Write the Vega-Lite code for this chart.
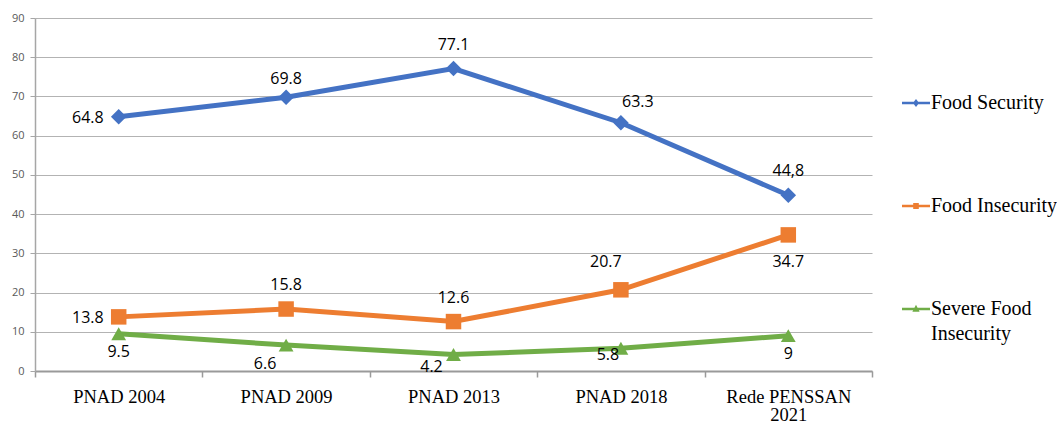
{
  "$schema": "https://vega.github.io/schema/vega-lite/v6.json",
  "width": 837,
  "height": 353,
  "autosize": "none",
  "padding": {"left": 35, "top": 18, "right": 185, "bottom": 53},
  "background": "white",
  "config": {"view": {"stroke": null}},
  "data": {"values": [
    {"period": "PNAD 2004", "series": "Food Security", "value": 64.8, "txt": "64.8"},
    {"period": "PNAD 2009", "series": "Food Security", "value": 69.8, "txt": "69.8"},
    {"period": "PNAD 2013", "series": "Food Security", "value": 77.1, "txt": "77.1"},
    {"period": "PNAD 2018", "series": "Food Security", "value": 63.3, "txt": "63.3"},
    {"period": "Rede PENSSAN 2021", "series": "Food Security", "value": 44.8, "txt": "44,8"},
    {"period": "PNAD 2004", "series": "Food Insecurity", "value": 13.8, "txt": "13.8"},
    {"period": "PNAD 2009", "series": "Food Insecurity", "value": 15.8, "txt": "15.8"},
    {"period": "PNAD 2013", "series": "Food Insecurity", "value": 12.6, "txt": "12.6"},
    {"period": "PNAD 2018", "series": "Food Insecurity", "value": 20.7, "txt": "20.7"},
    {"period": "Rede PENSSAN 2021", "series": "Food Insecurity", "value": 34.7, "txt": "34.7"},
    {"period": "PNAD 2004", "series": "Severe Food Insecurity", "value": 9.5, "txt": "9.5"},
    {"period": "PNAD 2009", "series": "Severe Food Insecurity", "value": 6.6, "txt": "6.6"},
    {"period": "PNAD 2013", "series": "Severe Food Insecurity", "value": 4.2, "txt": "4.2"},
    {"period": "PNAD 2018", "series": "Severe Food Insecurity", "value": 5.8, "txt": "5.8"},
    {"period": "Rede PENSSAN 2021", "series": "Severe Food Insecurity", "value": 9, "txt": "9"}
  ]},
  "encoding": {
    "x": {
      "field": "period", "type": "nominal", "sort": null, "bandPosition": 0.5,
      "scale": {"type": "band", "paddingInner": 0, "paddingOuter": 0},
      "axis": {
        "title": null, "labelAngle": 0, "labelFont": "Liberation Serif", "labelFontSize": 18.5, "labelFontWeight": "normal",
        "labelColor": "#000000", "labelLineHeight": 18, "tickBand": "extent",
        "tickSize": 6, "tickColor": "#9a9a9a", "tickWidth": 1.5, "domainColor": "#9a9a9a", "domainWidth": 2,
        "labelPadding": 10, "grid": false,
        "labelExpr": "datum.label == 'Rede PENSSAN 2021' ? ['Rede PENSSAN', '2021'] : datum.label"
      }
    },
    "y": {
      "field": "value", "type": "quantitative",
      "scale": {"domain": [0, 90], "nice": false},
      "axis": {
        "title": null, "values": [0, 10, 20, 30, 40, 50, 60, 70, 80, 90],
        "labelFont": "Open Sans", "labelFontSize": 11, "labelColor": "#595959",
        "tickSize": 5, "tickColor": "#a6a6a6", "labelPadding": 6,
        "domainColor": "#a6a6a6", "domainWidth": 1.5,
        "gridColor": "#b3b3b3", "gridWidth": 1
      }
    },
    "color": {"field": "series", "type": "nominal",
      "scale": {"domain": ["Food Security", "Food Insecurity", "Severe Food Insecurity"], "range": ["#4472C4", "#ED7D31", "#70AD47"]},
      "legend": {
        "title": null, "orient": "none", "legendX": 867, "legendY": 71,
        "labelFont": "Liberation Serif", "labelFontSize": 20, "labelColor": "#000000",
        "labelOffset": 1, "rowPadding": 79, "symbolSize": 784, "symbolStrokeWidth": 0,
        "labelLimit": 200, "labelLineHeight": 25, "symbolType": "square",
        "labelExpr": "datum.label == 'Severe Food Insecurity' ? ['Severe Food', 'Insecurity'] : datum.label",
        "encode": {
          "symbols": {"update": {
            "shape": {"signal": "datum.value === 'Food Security' ? 'M-1,-0.09L1,-0.09L1,0.09L-1,0.09Z M0,-0.28L0.22,0L0,0.28L-0.22,0Z' : datum.value === 'Food Insecurity' ? 'M-1,-0.09L1,-0.09L1,0.09L-1,0.09Z M-0.2,-0.22L0.2,-0.22L0.2,0.22L-0.2,0.22Z' : 'M-1,-0.09L1,-0.09L1,0.09L-1,0.09Z M0,-0.3L0.26,0.2L-0.26,0.2Z'"},
            "fill": {"signal": "datum.value === 'Food Security' ? '#4472C4' : datum.value === 'Food Insecurity' ? '#ED7D31' : '#70AD47'"},
            "fillOpacity": {"value": 1}
          }},
          "labels": {"update": {"lineHeight": {"value": 25}}}
        }
      }
    }
  },
  "layer": [
    {
      "mark": {"type": "line", "strokeWidth": 5}
    },
    {
      "transform": [{"filter": "datum.series == 'Food Security'"}],
      "mark": {"type": "point", "filled": true, "opacity": 1, "size": 240, "shape": "diamond"}
    },
    {
      "transform": [{"filter": "datum.series == 'Food Insecurity'"}],
      "mark": {"type": "point", "filled": true, "opacity": 1, "size": 240, "shape": "square"}
    },
    {
      "transform": [{"filter": "datum.series == 'Severe Food Insecurity'"}],
      "mark": {"type": "point", "filled": true, "opacity": 1, "size": 220, "shape": "triangle-up"}
    },
    {
      "transform": [{"filter": "datum.period == 'PNAD 2004' && datum.series != 'Severe Food Insecurity'"}],
      "mark": {"type": "text", "font": "Open Sans", "fontSize": 16, "color": "#000000", "align": "right", "baseline": "middle", "dx": -15, "dy": 1},
      "encoding": {"text": {"field": "txt"}, "color": {"value": "#000000"}}
    },
    {
      "transform": [{"filter": "datum.period == 'PNAD 2009' && datum.series == 'Food Security'"}],
      "mark": {"type": "text", "font": "Open Sans", "fontSize": 16, "color": "#000000", "align": "center", "baseline": "middle", "dy": -18},
      "encoding": {"text": {"field": "txt"}, "color": {"value": "#000000"}}
    },
    {
      "transform": [{"filter": "(datum.series == 'Food Security' && (datum.period == 'PNAD 2013' || datum.period == 'Rede PENSSAN 2021')) || (datum.series == 'Food Insecurity' && (datum.period == 'PNAD 2009' || datum.period == 'PNAD 2013'))"}],
      "mark": {"type": "text", "font": "Open Sans", "fontSize": 16, "color": "#000000", "align": "center", "baseline": "middle", "dy": -24},
      "encoding": {"text": {"field": "txt"}, "color": {"value": "#000000"}}
    },
    {
      "transform": [{"filter": "datum.period == 'PNAD 2018' && datum.series == 'Food Security'"}],
      "mark": {"type": "text", "font": "Open Sans", "fontSize": 16, "color": "#000000", "align": "center", "baseline": "middle", "dx": 17, "dy": -21},
      "encoding": {"text": {"field": "txt"}, "color": {"value": "#000000"}}
    },
    {
      "transform": [{"filter": "datum.period == 'PNAD 2018' && datum.series == 'Food Insecurity'"}],
      "mark": {"type": "text", "font": "Open Sans", "fontSize": 16, "color": "#000000", "align": "center", "baseline": "middle", "dx": -15, "dy": -28},
      "encoding": {"text": {"field": "txt"}, "color": {"value": "#000000"}}
    },
    {
      "transform": [{"filter": "datum.period == 'Rede PENSSAN 2021' && datum.series == 'Food Insecurity'"}],
      "mark": {"type": "text", "font": "Open Sans", "fontSize": 16, "color": "#000000", "align": "center", "baseline": "middle", "dy": 27},
      "encoding": {"text": {"field": "txt"}, "color": {"value": "#000000"}}
    },
    {
      "transform": [{"filter": "datum.series == 'Severe Food Insecurity' && (datum.period == 'PNAD 2004' || datum.period == 'Rede PENSSAN 2021')"}],
      "mark": {"type": "text", "font": "Open Sans", "fontSize": 16, "color": "#000000", "align": "center", "baseline": "middle", "dy": 18},
      "encoding": {"text": {"field": "txt"}, "color": {"value": "#000000"}}
    },
    {
      "transform": [{"filter": "datum.series == 'Severe Food Insecurity' && datum.period == 'PNAD 2009'"}],
      "mark": {"type": "text", "font": "Open Sans", "fontSize": 16, "color": "#000000", "align": "center", "baseline": "middle", "dx": -21, "dy": 19},
      "encoding": {"text": {"field": "txt"}, "color": {"value": "#000000"}}
    },
    {
      "transform": [{"filter": "datum.series == 'Severe Food Insecurity' && datum.period == 'PNAD 2013'"}],
      "mark": {"type": "text", "font": "Open Sans", "fontSize": 16, "color": "#000000", "align": "center", "baseline": "middle", "dx": -22, "dy": 12},
      "encoding": {"text": {"field": "txt"}, "color": {"value": "#000000"}}
    },
    {
      "transform": [{"filter": "datum.series == 'Severe Food Insecurity' && datum.period == 'PNAD 2018'"}],
      "mark": {"type": "text", "font": "Open Sans", "fontSize": 16, "color": "#000000", "align": "center", "baseline": "middle", "dx": -13, "dy": 7},
      "encoding": {"text": {"field": "txt"}, "color": {"value": "#000000"}}
    }
  ]
}
